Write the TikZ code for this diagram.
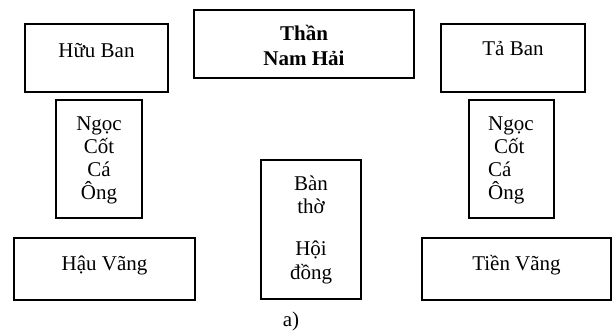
\documentclass[tikz,border=0pt]{standalone}
\usepackage{fontspec}
\setmainfont{Liberation Serif}
\begin{document}
\begin{tikzpicture}[x=1pt,y=-1pt,
  box/.style={draw, line width=1.4pt, rectangle, inner sep=0pt},
  txt/.style={anchor=base, inner sep=0pt, font=\fontsize{21}{23}\selectfont},
  txtl/.style={anchor=base west, inner sep=0pt, font=\fontsize{21}{23}\selectfont}]
\useasboundingbox (0,0) rectangle (614,332);
% boxes
\node[box, minimum width=143pt, minimum height=68pt] (huu) at (96.5,58) {};
\node[box, minimum width=220pt, minimum height=68pt] (than) at (304,44) {};
\node[box, minimum width=144pt, minimum height=68pt] (ta) at (513,58) {};
\node[box, minimum width=86pt, minimum height=118pt] (ngocL) at (99,159) {};
\node[box, minimum width=85pt, minimum height=118pt] (ngocR) at (511.5,159) {};
\node[box, minimum width=181pt, minimum height=62pt] (hau) at (104.5,269) {};
\node[box, minimum width=100pt, minimum height=139pt] (ban) at (311,229.5) {};
\node[box, minimum width=189pt, minimum height=62pt] (tien) at (516.5,269) {};
% texts
\node[txt] (t1) at (96.5,57) {Hữu Ban};
\node[txt, font=\fontsize{21}{23}\selectfont\bfseries] (t2) at (304,41) {Thần};
\node[txt, font=\fontsize{21}{23}\selectfont\bfseries] (t3) at (304,65) {Nam Hải};
\node[txt] (t4) at (513,56) {Tả Ban};
\node[txt] (l1) at (99,130) {Ngọc};
\node[txt] (l2) at (99,153) {Cốt};
\node[txt] (l3) at (99,176) {Cá};
\node[txt] (l4) at (99,199) {Ông};
\node[txtl] (r1) at (488,130) {Ngọc};
\node[txtl] (r2) at (494,153) {Cốt};
\node[txtl] (r3) at (488,176) {Cá};
\node[txtl] (r4) at (488,199) {Ông};
\node[txt] (b1) at (311,190) {Bàn};
\node[txt] (b2) at (311,213) {thờ};
\node[txt] (b3) at (311,255) {Hội};
\node[txt] (b4) at (311,279) {đồng};
\node[txt] (t5) at (104.5,270) {Hậu Vãng};
\node[txt] (t6) at (516.5,270) {Tiền Vãng};
\node[txt] (cap) at (291,326) {a)};
\end{tikzpicture}
\end{document}
